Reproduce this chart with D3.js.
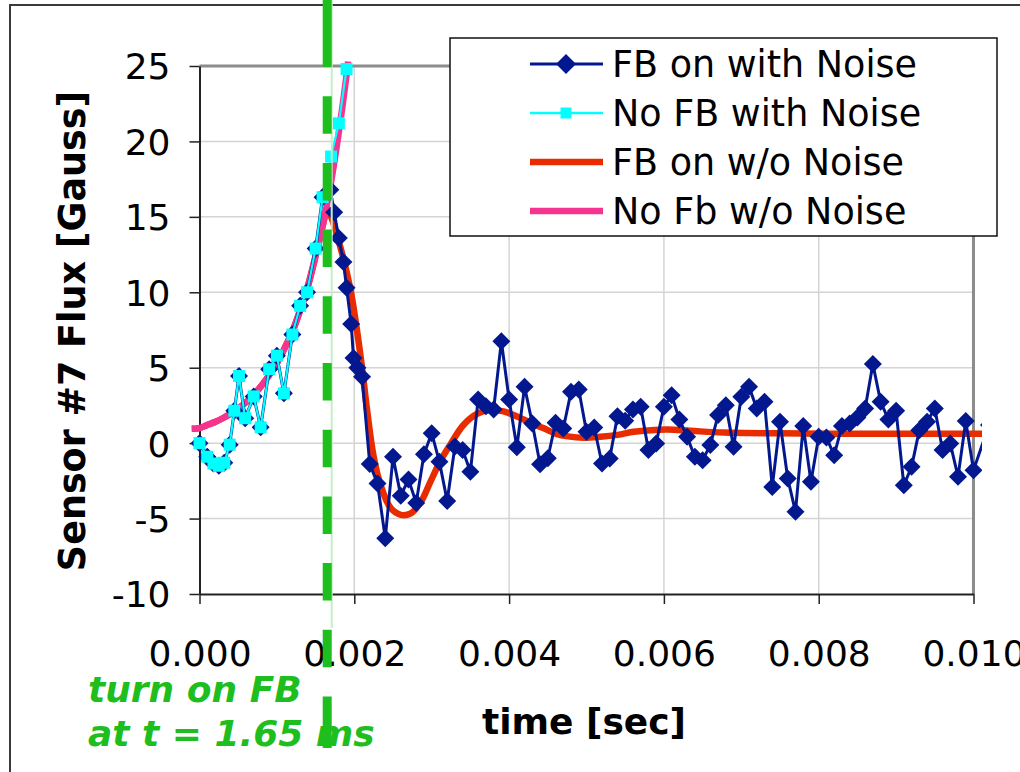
<!DOCTYPE html>
<html>
<head>
<meta charset="utf-8">
<script src="https://cdn.jsdelivr.net/npm/d3@7"></script>
<style>
  body { margin: 0; background: #fff; }
  svg { display: block; }
  text { font-family: "DejaVu Sans", Verdana, sans-serif; }
</style>
</head>
<body>
<svg id="chart" width="1020" height="772"></svg>
<script>
// ---- data -------------------------------------------------------------
// measured samples shared by both noisy runs before feedback turns on
const noiseTimeBefore = [0, 0.0001, 0.00018, 0.00025, 0.00032, 0.00039, 0.00045, 0.00051, 0.00059, 0.0007,
  0.00079, 0.0009, 0.001, 0.00109, 0.0012, 0.0013, 0.00139, 0.0015, 0.00159];
const noiseFluxBefore = [0, -0.9, -1.35, -1.5, -1.3, -0.1, 2.15, 4.45, 1.65, 3.1,
  1.05, 4.9, 5.8, 3.3, 7.2, 9.1, 10.0, 12.9, 16.3];

// FB on with Noise, after turn-on
const fbNoiseTimeAfter = [0.00169, 0.00174, 0.0018, 0.00186, 0.0019, 0.00196, 0.00199, 0.00204,
  0.0021, 0.0022, 0.0023, 0.0024, 0.0025, 0.0026, 0.0027, 0.0028, 0.0029, 0.0030,
  0.0031, 0.0032, 0.0033, 0.0034, 0.0035, 0.0036, 0.0037, 0.0038, 0.0039, 0.0040,
  0.0041, 0.0042, 0.0043, 0.0044, 0.0045, 0.0046, 0.0047, 0.0048, 0.0049, 0.0050,
  0.0051, 0.0052, 0.0053, 0.0054, 0.0055, 0.0056, 0.0057, 0.0058, 0.0059, 0.0060,
  0.0061, 0.0062, 0.0063, 0.0064, 0.0065, 0.0066, 0.0067, 0.0068, 0.0069, 0.0070,
  0.0071, 0.0072, 0.0073, 0.0074, 0.0075, 0.0076, 0.0077, 0.0078, 0.0079, 0.0080,
  0.0081, 0.0082, 0.0083, 0.0084, 0.0085, 0.0086, 0.0087, 0.0088, 0.0089, 0.0090,
  0.0091, 0.0092, 0.0093, 0.0094, 0.0095, 0.0096, 0.0097, 0.0098, 0.0099, 0.0100, 0.0102];
const fbNoiseFluxAfter = [16.8, 15.3, 13.6, 12.0, 10.3, 7.9, 5.65, 5.0,
  4.4, -1.39, -2.67, -6.3, -0.91, -3.48, -2.41, -3.96, -0.73, 0.66,
  -1.24, -3.83, -0.22, -0.46, -1.9, 2.9, 2.45, 2.23, 6.75, 2.9,
  -0.27, 3.73, 1.3, -1.4, -1.0, 1.35, 0.97, 3.4, 3.56, 0.75,
  1.04, -1.35, -1.02, 1.79, 1.48, 2.23, 2.41, -0.46, -0.02, 2.41,
  3.18, 1.57, 0.42, -0.91, -1.13, -0.13, 1.86, 2.52, -0.24, 3.07,
  3.73, 2.3, 2.74, -2.9, 1.41, -2.34, -4.55, 1.13, -2.56, 0.42,
  0.37, -0.8, 1.13, 1.3, 1.7, 2.3, 5.24, 2.74, 1.57, 2.14,
  -2.79, -1.57, 0.86, 1.41, 2.3, -0.46, -0.02, -2.23, 1.46, -1.79, 1.2];

// No FB with Noise, after the turn-on time
const noFbNoiseTimeAfter = [0.0017, 0.0018, 0.0019];
const noFbNoiseFluxAfter = [19.0, 21.2, 24.8];

// No Fb w/o Noise (noise-free growth)
const noFbCleanTime = [-0.0001, 0, 0.0001, 0.0002, 0.0003, 0.0004, 0.0005, 0.0006, 0.0007, 0.0008,
  0.0009, 0.001, 0.0011, 0.0012, 0.0013, 0.0014, 0.0015, 0.0016, 0.0017, 0.0018, 0.0019, 0.00192];
const noFbCleanFlux = [0.95, 1.0, 1.2, 1.4, 1.65, 1.95, 2.3, 2.7, 3.2, 3.8,
  4.5, 5.3, 6.3, 7.4, 8.8, 10.4, 12.4, 14.6, 17.3, 20.6, 24.4, 25.3];

// FB on w/o Noise, response after turn-on
const fbCleanTimeAfter = [0.00165, 0.0017, 0.00182, 0.00195, 0.00202, 0.0021, 0.00217, 0.00225, 0.00234,
  0.00247, 0.0026, 0.00273, 0.00286, 0.00298, 0.00311, 0.00324, 0.00341, 0.00359, 0.00376,
  0.00393, 0.00411, 0.00428, 0.00444, 0.00461, 0.00476, 0.00496, 0.00518, 0.0054, 0.00561,
  0.00583, 0.00605, 0.00634, 0.00677, 0.0075, 0.0084, 0.0093, 0.0102];
const fbCleanFluxAfter = [15.5, 15.0, 13.0, 10.2, 8.0, 5.0, 2.0, -0.9, -2.8,
  -4.3, -4.75, -4.65, -3.9, -2.6, -1.2, -0.1, 1.2, 1.95, 2.2,
  2.1, 1.75, 1.35, 1.0, 0.62, 0.45, 0.35, 0.42, 0.55, 0.75,
  0.86, 0.9, 0.82, 0.7, 0.65, 0.62, 0.62, 0.62];

const xTicks = [0, 0.002, 0.004, 0.006, 0.008, 0.010];
const yTicks = [-10, -5, 0, 5, 10, 15, 20, 25];
const seriesNames = ["FB on with Noise", "No FB with Noise", "FB on w/o Noise", "No Fb w/o Noise"];
const fbTurnOn = 0.00165;

// ---- assemble series -------------------------------------------------
const zip = (ts, vs) => ts.map((t, i) => ({ t, v: vs[i] }));
const fbNoise = zip(noiseTimeBefore.concat(fbNoiseTimeAfter), noiseFluxBefore.concat(fbNoiseFluxAfter));
const noFbNoise = zip(noiseTimeBefore.concat(noFbNoiseTimeAfter), noiseFluxBefore.concat(noFbNoiseFluxAfter));
const noFbClean = zip(noFbCleanTime, noFbCleanFlux);
const fbClean = noFbClean.filter(d => d.t <= 0.0016).concat(zip(fbCleanTimeAfter, fbCleanFluxAfter));

// ---- layout ----------------------------------------------------------
const svg = d3.select("#chart");
const plot = { left: 199.5, right: 973.5, top: 66, bottom: 594 };
const x = d3.scaleLinear().domain([0, 0.010]).range([plot.left, plot.right]);
const y = d3.scaleLinear().domain([-10, 25]).range([plot.bottom, plot.top]);

const colors = { fbNoise: "#03188f", noFbNoise: "#00ffff", fbClean: "#e92c00", noFbClean: "#f5348f" };
const green = "#1dbe1d";
const font = '"DejaVu Sans", Verdana, sans-serif';

// outer frame
svg.append("rect").attr("x", 10).attr("y", 5).attr("width", 1200).attr("height", 1000)
  .attr("fill", "none").attr("stroke", "#3a3a3a").attr("stroke-width", 2);

// gridlines
svg.append("g").selectAll("line").data(yTicks.filter(v => v > -10 && v < 25)).join("line")
  .attr("x1", plot.left).attr("x2", plot.right)
  .attr("y1", d => y(d)).attr("y2", d => y(d))
  .attr("stroke", "#d4d4d4").attr("stroke-width", 1.5);
svg.append("g").selectAll("line").data(xTicks.filter(v => v > 0 && v < 0.010)).join("line")
  .attr("x1", d => x(d)).attr("x2", d => x(d))
  .attr("y1", plot.top).attr("y2", plot.bottom)
  .attr("stroke", "#d4d4d4").attr("stroke-width", 1.5);

// plot area border (top/right)
svg.append("path")
  .attr("d", `M${plot.left},${plot.top}H${plot.right}V${plot.bottom}`)
  .attr("fill", "none").attr("stroke", "#8c8c8c").attr("stroke-width", 3);

// axes
const fmtX = d3.format(".3f");
const fmtY = d => String(d);   // plain hyphen for negatives
const xAxis = d3.axisBottom(x).tickValues(xTicks).tickSize(10).tickFormat(fmtX).tickSizeOuter(0);
const yAxis = d3.axisLeft(y).tickValues(yTicks).tickSize(10).tickFormat(fmtY).tickSizeOuter(0);

const gx = svg.append("g").attr("transform", `translate(0,${plot.bottom})`).call(xAxis);
gx.select(".domain").attr("stroke", "#222").attr("stroke-width", 2);
gx.selectAll(".tick line").attr("stroke", "#222").attr("stroke-width", 1.5);
gx.selectAll(".tick text").attr("font-size", 36).attr("fill", "#000")
  .attr("dy", null).attr("y", 72).style("font-family", font);

const gy = svg.append("g").attr("transform", `translate(${plot.left},0)`).call(yAxis);
gy.select(".domain").attr("stroke", "#222").attr("stroke-width", 2);
gy.selectAll(".tick line").attr("stroke", "#222").attr("stroke-width", 1.5);
gy.selectAll(".tick text").attr("font-size", 36).attr("fill", "#000")
  .attr("x", -29).attr("dy", "0.36em").style("font-family", font);

// axis titles
svg.append("text").attr("x", 584).attr("y", 734).attr("text-anchor", "middle")
  .attr("font-size", 36).attr("font-weight", "bold").text("time [sec]");
svg.append("text").attr("transform", "translate(85,331) rotate(-90)").attr("text-anchor", "middle")
  .attr("font-size", 36.5).attr("font-weight", "bold").text("Sensor #7 Flux [Gauss]");

// ---- series ----------------------------------------------------------
svg.append("clipPath").attr("id", "clip").append("rect")
  .attr("x", 190).attr("y", 50).attr("width", 792).attr("height", 560);
const layer = svg.append("g").attr("clip-path", "url(#clip)");

const smooth = d3.line().x(d => x(d.t)).y(d => y(d.v)).curve(d3.curveCatmullRom.alpha(0.5));
const straight = d3.line().x(d => x(d.t)).y(d => y(d.v));

layer.append("path").datum(fbClean).attr("d", smooth)
  .attr("fill", "none").attr("stroke", colors.fbClean).attr("stroke-width", 6.5).attr("stroke-linejoin", "round");
layer.append("path").datum(noFbClean).attr("d", smooth)
  .attr("fill", "none").attr("stroke", colors.noFbClean).attr("stroke-width", 6.5).attr("stroke-linejoin", "round");

layer.append("path").datum(fbNoise).attr("d", straight)
  .attr("fill", "none").attr("stroke", colors.fbNoise).attr("stroke-width", 3).attr("stroke-linejoin", "round");
const diamond = r => `M0,${-r}L${r},0L0,${r}L${-r},0Z`;
layer.append("g").selectAll("path").data(fbNoise).join("path")
  .attr("transform", d => `translate(${x(d.t)},${y(d.v)})`)
  .attr("d", diamond(9)).attr("fill", colors.fbNoise);

layer.append("path").datum(noFbNoise).attr("d", straight)
  .attr("fill", "none").attr("stroke", colors.noFbNoise).attr("stroke-width", 2.2).attr("stroke-linejoin", "round");
layer.append("g").selectAll("rect").data(noFbNoise).join("rect")
  .attr("x", d => x(d.t) - 6).attr("y", d => y(d.v) - 6)
  .attr("width", 12).attr("height", 12).attr("fill", colors.noFbNoise);

// ---- feedback turn-on marker ------------------------------------------
const xOn = x(fbTurnOn);
svg.append("line").attr("x1", xOn + 4.5).attr("x2", xOn + 4.5).attr("y1", 0).attr("y2", 628)
  .attr("stroke", "#c4eec4").attr("stroke-width", 2);
svg.append("line").attr("x1", xOn).attr("x2", xOn).attr("y1", 0).attr("y2", 748)
  .attr("stroke", green).attr("stroke-width", 9)
  .attr("stroke-dasharray", "67 29.2 37.5 29.2 37.5 29.2 37.5 29.2 37.5 29.2 37.5 29.2 37.5 29.2 37.5 29.2 37.5 29.2 37.5 29.2 52");

const note = svg.append("text").attr("fill", green).attr("font-size", 36)
  .attr("font-weight", "bold").attr("font-style", "italic");
note.append("tspan").attr("x", 88).attr("y", 702).text("turn on FB");
note.append("tspan").attr("x", 88).attr("y", 746).text("at t = 1.65 ms");

// ---- legend ----------------------------------------------------------
const legend = svg.append("g");
legend.append("rect").attr("x", 450).attr("y", 38).attr("width", 547).attr("height", 198)
  .attr("fill", "#fff").attr("stroke", "#111").attr("stroke-width", 1.5);
const legendStyles = [
  { color: colors.fbNoise, width: 3, marker: "diamond" },
  { color: colors.noFbNoise, width: 2.4, marker: "square" },
  { color: colors.fbClean, width: 6.5, marker: null },
  { color: colors.noFbClean, width: 6.5, marker: null }
];
const rows = legend.selectAll("g.row").data(seriesNames).join("g")
  .attr("class", "row").attr("transform", (d, i) => `translate(0,${64 + i * 49})`);
rows.append("line").attr("x1", 530).attr("x2", 603).attr("y1", 0).attr("y2", 0)
  .attr("stroke", (d, i) => legendStyles[i].color).attr("stroke-width", (d, i) => legendStyles[i].width);
rows.filter((d, i) => legendStyles[i].marker === "diamond").append("path")
  .attr("transform", "translate(566,0)").attr("d", diamond(10)).attr("fill", colors.fbNoise);
rows.filter((d, i) => legendStyles[i].marker === "square").append("rect")
  .attr("x", 560.5).attr("y", -5.5).attr("width", 11).attr("height", 11).attr("fill", colors.noFbNoise);
rows.append("text").attr("x", 612).attr("y", 0).attr("dy", "0.36em")
  .attr("font-size", 36.5).attr("fill", "#000").text(d => d);
</script>
</body>
</html>
